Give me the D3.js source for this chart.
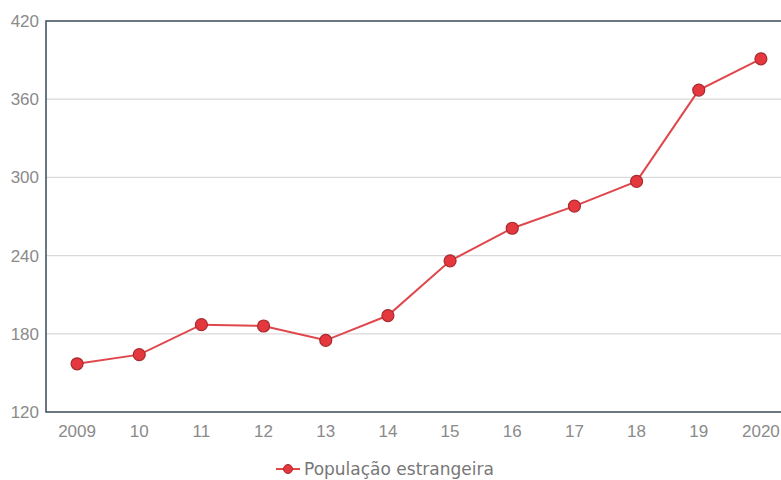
<!DOCTYPE html>
<html><head><meta charset="utf-8">
<script src="https://cdn.jsdelivr.net/npm/d3@7"></script>
<style>body{margin:0;background:#fff}svg{display:block}</style>
</head><body>
<svg id="c" width="781" height="480"></svg>
<script>
const years = ["2009","10","11","12","13","14","15","16","17","18","19","2020"];
const values = [157,164,187,186,175,194,236,261,278,297,367,391];
const yTicks = [120,180,240,300,360,420];
const seriesName = "População estrangeira";

(function(){
const svg = d3.select("#c");
const mL = 46, mT = 21, mB = 412, mR = 792;
const x = d3.scalePoint().domain(years).range([mL, mR]).padding(0.5);
const y = d3.scaleLinear().domain([120,420]).range([mB, mT]);
const axisFont = "'Liberation Sans', Arial, sans-serif";

svg.append("g").selectAll("line").data(yTicks.slice(1,-1)).join("line")
  .attr("x1", mL).attr("x2", mR).attr("y1", d=>y(d)).attr("y2", d=>y(d))
  .attr("stroke", "#d9d9d9").attr("stroke-width", 1.2);

svg.append("rect").attr("x", mL).attr("y", mT).attr("width", mR-mL).attr("height", mB-mT)
  .attr("fill","none").attr("stroke","#3a4a5a").attr("stroke-width",1.5);

svg.append("g").selectAll("text").data(yTicks).join("text")
  .attr("x", 39).attr("y", d=>y(d)).attr("dy","0.35em").attr("text-anchor","end")
  .style("font-family", axisFont).style("font-size","17px").attr("fill","#8a8a8a")
  .text(d=>d);

svg.append("g").selectAll("text").data(years).join("text")
  .attr("x", d=>x(d)).attr("y", 437).attr("text-anchor","middle")
  .style("font-family", axisFont).style("font-size","17px").attr("fill","#8a8a8a")
  .text(d=>d);

const data = years.map((yr,i)=>({yr, v: values[i]}));
svg.append("path").datum(data)
  .attr("d", d3.line().x(d=>x(d.yr)).y(d=>y(d.v)))
  .attr("fill","none").attr("stroke","#e0474c").attr("stroke-width",2);
svg.append("g").selectAll("circle").data(data).join("circle")
  .attr("cx", d=>x(d.yr)).attr("cy", d=>y(d.v)).attr("r", 6)
  .attr("fill","#e5383e").attr("stroke","#a82a2e").attr("stroke-width",1.2);

const lg = svg.append("g").attr("transform","translate(288,469)");
lg.append("line").attr("x1",-12).attr("x2",12).attr("stroke","#e0474c").attr("stroke-width",2);
lg.append("circle").attr("r",4.5).attr("fill","#e5383e").attr("stroke","#a82a2e").attr("stroke-width",1);
lg.append("text").attr("x",16).attr("dy","0.35em")
  .style("font-family","'DejaVu Sans', Verdana, sans-serif").style("font-size","17px").attr("fill","#777")
  .text(seriesName);
})();
</script>
</body></html>
